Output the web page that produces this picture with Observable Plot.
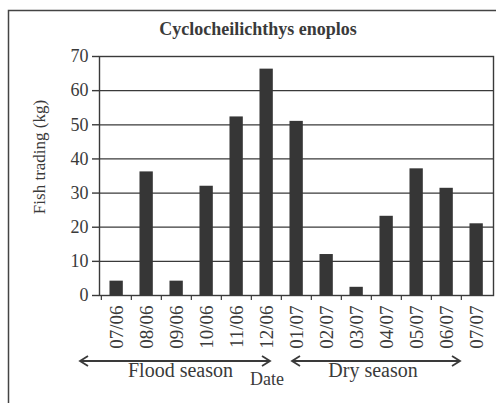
<!DOCTYPE html>
<html>
<head>
<meta charset="utf-8">
<script src="https://cdn.jsdelivr.net/npm/d3@7"></script>
<script src="https://cdn.jsdelivr.net/npm/@observablehq/plot@0.6"></script>
<style>
  html, body { margin: 0; padding: 0; background: #fff; }
  #chart svg { display: block; }
  #chart svg, #chart svg text { font-family: "Liberation Serif", "Times New Roman", serif !important; }
</style>
</head>
<body>
<div id="chart"></div>
<script>
const title = "Cyclocheilichthys enoplos";
const yLabel = "Fish trading (kg)";
const xLabel = "Date";
const dates = ["07/06","08/06","09/06","10/06","11/06","12/06","01/07","02/07","03/07","04/07","05/07","06/07","07/07"];
const kg = [4.2, 36.2, 4.2, 32.0, 52.3, 66.3, 51.0, 12.0, 2.4, 23.2, 37.1, 31.4, 21.0];
const yTicks = [0, 10, 20, 30, 40, 50, 60, 70];
const seasons = ["Flood season", "Dry season"];

const data = dates.map((d, i) => ({date: d, kg: kg[i]}));

const W = 496, H = 403;
const mL = 99, mR = 3, mT = 56, mB = 108;
const step = (W - mL - mR) / dates.length;
const ink = "#3a3a3a";
const serif = "Liberation Serif";

const chart = Plot.plot({
  width: W, height: H,
  marginLeft: mL, marginRight: mR, marginTop: mT, marginBottom: mB,
  style: {color: ink, background: "#fff", overflow: "visible"},
  x: {domain: dates, padding: 0, label: null},
  y: {domain: [0, 70], label: null},
  marks: [
    Plot.gridY(yTicks, {stroke: ink, strokeOpacity: 1, strokeWidth: 1.2}),
    Plot.barY(data, {x: "date", y: "kg", fill: "#363636", insetLeft: step * 0.28, insetRight: step * 0.27}),
    Plot.ruleX(dates, {x: d => d, y1: 0, y2: 0, dx: -step / 2, insetBottom: -5, stroke: ink, strokeWidth: 1.2}),
    Plot.frame({stroke: ink, strokeWidth: 1.4}),
    Plot.axisY(yTicks, {tickSize: 7, tickPadding: 4, fontSize: 18, stroke: ink, strokeWidth: 1.4, label: null}),
    Plot.axisX({tickSize: 0, tickRotate: -90, tickPadding: 10, fontSize: 19, label: null})
  ]
});
chart.setAttribute("font-family", serif);
document.getElementById("chart").appendChild(chart);

// annotations: outer box, title, axis titles, season arrows
const svg = d3.select(chart);
const g = svg.append("g").attr("font-family", serif).attr("fill", ink);
svg.insert("rect", ":first-child")
  .attr("x", 8.5).attr("y", 10.5).attr("width", 520).attr("height", 420)
  .attr("fill", "#fff").attr("stroke", "#444").attr("stroke-width", 1.5);

g.append("text").attr("x", 258).attr("y", 35).attr("text-anchor", "middle")
  .attr("font-size", 18).attr("font-weight", "bold").text(title);

g.append("text").attr("transform", "translate(45,157) rotate(-90)").attr("text-anchor", "middle")
  .attr("font-size", 17).text(yLabel);

g.append("text").attr("x", 267).attr("y", 385).attr("font-size", 18).text(xLabel);

const arrows = [
  {x1: 80, x2: 270, tx: 180.5, label: seasons[0]},
  {x1: 292, x2: 460, tx: 373, label: seasons[1]}
];
const ay = 361;
arrows.forEach(a => {
  g.append("line").attr("x1", a.x1).attr("x2", a.x2).attr("y1", ay).attr("y2", ay)
    .attr("stroke", ink).attr("stroke-width", 1.8);
  g.append("path").attr("d", `M${a.x1 + 8},${ay - 5} L${a.x1},${ay} L${a.x1 + 8},${ay + 5}`)
    .attr("fill", "none").attr("stroke", ink).attr("stroke-width", 1.8);
  g.append("path").attr("d", `M${a.x2 - 8},${ay - 5} L${a.x2},${ay} L${a.x2 - 8},${ay + 5}`)
    .attr("fill", "none").attr("stroke", ink).attr("stroke-width", 1.8);
  g.append("text").attr("x", a.tx).attr("y", 377).attr("text-anchor", "middle")
    .attr("font-size", 20).text(a.label);
});
</script>
</body>
</html>
